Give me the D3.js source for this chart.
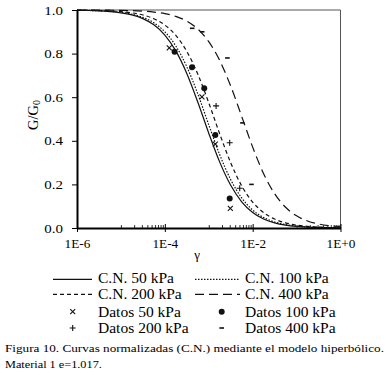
<!DOCTYPE html>
<html><head><meta charset="utf-8">
<script src="https://cdn.jsdelivr.net/npm/d3@7"></script>
<style>
body{margin:0;background:#fff}
svg{display:block}
text{font-family:"Liberation Serif","Times New Roman","DejaVu Serif",serif;fill:#000}
</style>
</head><body>
<svg id="c" width="386" height="375" font-family="Liberation Serif, Times New Roman, serif"></svg>
<script>
// ---- data ----
const gammaGrid = [1e-6,1.778e-6,3.162e-6,5.623e-6,1e-5,1.778e-5,3.162e-5,5.623e-5,1e-4,1.778e-4,3.162e-4,5.623e-4,1e-3,1.778e-3,3.162e-3,5.623e-3,1e-2,1.778e-2,3.162e-2,5.623e-2,0.1,0.1778,0.3162,0.5623,1];
const cn50  = [0.9987,0.9977,0.9959,0.9927,0.9872,0.9774,0.9606,0.9319,0.8851,0.8124,0.7089,0.5779,0.4350,0.3021,0.1958,0.1204,0.0715,0.0415,0.0238,0.0135,0.00764,0.00431,0.00243,0.00137,0.00077];
const cn100 = [0.9989,0.9980,0.9965,0.9938,0.9890,0.9806,0.9661,0.9412,0.9000,0.8350,0.7400,0.6154,0.4737,0.3360,0.2216,0.1380,0.0826,0.0482,0.0277,0.0158,0.00892,0.00503,0.00284,0.00160,0.00090];
const cn200 = [0.9993,0.9987,0.9977,0.9959,0.9926,0.9870,0.9771,0.9600,0.9310,0.8836,0.8102,0.7060,0.5745,0.4316,0.2992,0.1936,0.1189,0.0706,0.0410,0.0234,0.0133,0.00753,0.00425,0.00240,0.00135];
const cn400 = [0.9998,0.9997,0.9995,0.9990,0.9983,0.9970,0.9947,0.9906,0.9833,0.9707,0.9491,0.9130,0.8551,0.7684,0.6510,0.5120,0.3711,0.2491,0.1572,0.0950,0.0557,0.0321,0.0183,0.0104,0.00587];

const datos50gamma  = [1.26e-4,7.0e-4,1.41e-3,3.1e-3];
const datos50G      = [0.826,0.602,0.385,0.09];
const datos100gamma = [1.67e-4,4.16e-4,7.9e-4,1.41e-3,3.0e-3];
const datos100G     = [0.809,0.737,0.641,0.427,0.135];
const datos200gamma = [1.47e-3,3.0e-3,5.07e-3];
const datos200G     = [0.56,0.391,0.182];
const datos400gamma = [4.2e-4,7.1e-4,2.66e-3,5.85e-3,9.4e-3];
const datos400G     = [0.916,0.90,0.78,0.482,0.2];

const xTicks = [1e-6,1e-4,1e-2,1];
const xTickLabels = ["1E-6","1E-4","1E-2","1E+0"];
const minorDecades = [1e-5,1e-3,1e-1];
const minorMult = [1,2,3,4,5,6,7,8,9];
const yTicks = [0,0.2,0.4,0.6,0.8,1.0];

const legendLabels = ["C.N. 50 kPa","C.N. 100 kPa","C.N. 200 kPa","C.N. 400 kPa","Datos 50 kPa","Datos 100 kPa","Datos 200 kPa","Datos 400 kPa"];
const captionLine1 = "Figura 10. Curvas normalizadas (C.N.) mediante el modelo hiperbólico.";
const captionLine2 = "Material 1 e=1.017.";

// ---- drawing ----
const FONT = '"Liberation Serif","Times New Roman","DejaVu Serif",serif';
const svg = d3.select("#c");
const L = 77, R = 340.5, T = 10, B = 228;
const x = d3.scaleLog().domain([1e-6,1]).range([L,R]);
const y = d3.scaleLinear().domain([0,1]).range([B,T]);

function stretch(sel, f){
  sel.each(function(){
    const w = this.getComputedTextLength();
    this.setAttribute("textLength", (w*f).toFixed(2));
    this.setAttribute("lengthAdjust","spacingAndGlyphs");
  });
}

// frame (top/right)
svg.append("path").attr("d",`M${L},${T}H${R}V${B}`).attr("fill","none").attr("stroke","#555").attr("stroke-width",1);

// curves
const lineGen = d3.line().x((d,i)=>x(gammaGrid[i])).y(d=>y(d)).curve(d3.curveMonotoneX);
const curveStyles = [
  {data:cn50, dash:null},
  {data:cn100, dash:"1.5,1.5"},
  {data:cn200, dash:"4,3"},
  {data:cn400, dash:"9,5"}
];
curveStyles.forEach(c=>{
  svg.append("path").attr("d",lineGen(c.data)).attr("fill","none")
    .attr("stroke","#111").attr("stroke-width",1.2)
    .attr("stroke-dasharray",c.dash);
});

// markers
function marker(g, type, cx, cy){
  if(type==="x"){
    g.append("path").attr("d",`M${cx-2.5},${cy-2.5}L${cx+2.5},${cy+2.5}M${cx-2.5},${cy+2.5}L${cx+2.5},${cy-2.5}`)
      .attr("stroke","#111").attr("stroke-width",1.1);
  } else if(type==="o"){
    g.append("circle").attr("cx",cx).attr("cy",cy).attr("r",3).attr("fill","#111");
  } else if(type==="+"){
    g.append("path").attr("d",`M${cx-3},${cy}L${cx+3},${cy}M${cx},${cy-3}L${cx},${cy+3}`)
      .attr("stroke","#111").attr("stroke-width",1.1);
  } else {
    g.append("path").attr("d",`M${cx-2.3},${cy}L${cx+2.3},${cy}`)
      .attr("stroke","#111").attr("stroke-width",1.6);
  }
}
const ptSets = [
  {g:datos50gamma, v:datos50G, t:"x"},
  {g:datos100gamma, v:datos100G, t:"o"},
  {g:datos200gamma, v:datos200G, t:"+"},
  {g:datos400gamma, v:datos400G, t:"-"}
];
const mg = svg.append("g");
ptSets.forEach(s=>s.g.forEach((gm,i)=>marker(mg,s.t,x(gm),y(s.v[i]))));

// axes
const minorTicks = [];
minorDecades.forEach(d=>minorMult.forEach(m=>minorTicks.push(m*d)));
svg.append("g").attr("transform",`translate(0,${B})`)
  .call(d3.axisBottom(x).tickValues(minorTicks).tickSize(-3).tickFormat("").tickSizeOuter(0))
  .call(g=>g.select(".domain").remove())
  .call(g=>g.selectAll(".tick line").attr("stroke","#333"));

const xa = svg.append("g").attr("transform",`translate(0,${B})`)
  .call(d3.axisBottom(x).tickValues(xTicks).tickFormat((d,i)=>xTickLabels[i]).tickSize(4).tickSizeOuter(0));
xa.attr("font-family",FONT);
xa.select(".domain").attr("stroke","#000").attr("stroke-width",2);
xa.selectAll(".tick line").attr("y1",-4).attr("y2",4).attr("stroke","#000");
xa.selectAll(".tick text").attr("y",10.5).attr("dy","0.71em").attr("font-size",13);
stretch(xa.selectAll(".tick text"),1.02);

const ya = svg.append("g").attr("transform",`translate(${L},0)`)
  .call(d3.axisLeft(y).tickValues(yTicks).tickFormat(d3.format(".1f")).tickSize(5).tickPadding(9).tickSizeOuter(0));
ya.attr("font-family",FONT);
ya.select(".domain").attr("stroke","#000").attr("stroke-width",2);
ya.selectAll(".tick line").attr("stroke","#000");
ya.selectAll(".tick text").attr("font-size",13);
stretch(ya.selectAll(".tick text"),1.15);

// axis titles
const yt = svg.append("text").attr("transform","translate(38,115) rotate(-90)").attr("text-anchor","middle").attr("font-size",14.5);
yt.append("tspan").text("G/G");
yt.append("tspan").text("0").attr("font-size",10).attr("dy",2);
svg.append("text").attr("x",197).attr("y",259).attr("text-anchor","middle").attr("font-size",13).text("γ");

// legend
const legendRowsY = [279.3,294.3,311.7,328];
const legendBase = [283.3,298.7,316.7,333.3];
const legendCols = [{s:53,e:92,m:72.7,t:98},{s:195,e:240,m:221.7,t:245}];
const leg = svg.append("g");
const legTypes = ["line","line","line","line","x","o","+","-"];
legendLabels.forEach((lab,i)=>{
  const row = Math.floor(i/2), col = i%2;
  const c = legendCols[col];
  if(i<4){
    leg.append("line").attr("x1",c.s).attr("x2",c.e).attr("y1",legendRowsY[row]).attr("y2",legendRowsY[row])
      .attr("stroke","#111").attr("stroke-width",1.2).attr("stroke-dasharray",curveStyles[i].dash);
  } else {
    marker(leg, legTypes[i], c.m, legendRowsY[row]);
  }
  leg.append("text").attr("class","lt").attr("x",c.t).attr("y",legendBase[row]).attr("font-size",14).text(lab);
});
stretch(leg.selectAll("text.lt"),1.11);

// caption
const cap1 = svg.append("text").attr("x",5).attr("y",352.3).attr("font-size",11).text(captionLine1);
cap1.attr("textLength",379).attr("lengthAdjust","spacingAndGlyphs");
const cap2 = svg.append("text").attr("x",5).attr("y",368.3).attr("font-size",11).text(captionLine2);
stretch(cap2,1.115);
</script>
</body></html>
